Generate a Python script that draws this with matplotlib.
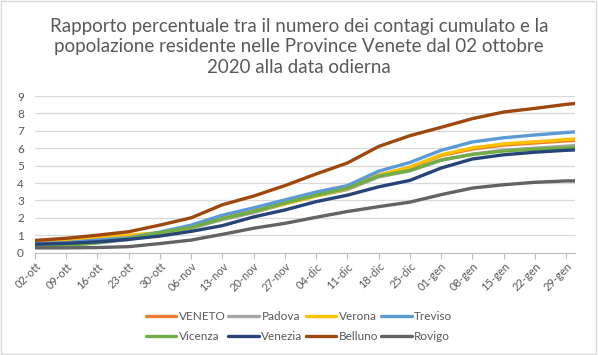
import numpy as np
import pandas as pd
import matplotlib
matplotlib.use('Agg')
import matplotlib.pyplot as plt
from matplotlib.patches import Rectangle

plt.rcParams['font.family'] = ['Lato', 'DejaVu Sans']

# valori (settimanali dal 02-ott, ultimo punto 31-gen)
dates = list(pd.date_range('2020-10-02', periods=18, freq='7D')) + [pd.Timestamp('2021-01-31')]
tick_labels = ['02-ott', '09-ott', '16-ott', '23-ott', '30-ott', '06-nov', '13-nov',
               '20-nov', '27-nov', '04-dic', '11-dic', '18-dic', '25-dic', '01-gen',
               '08-gen', '15-gen', '22-gen', '29-gen']

veneto  = [0.55, 0.62, 0.75, 0.88, 1.15, 1.48, 2.00, 2.40, 2.85, 3.30, 3.72, 4.45, 4.88, 5.58, 5.95, 6.18, 6.30, 6.42, 6.45]
padova  = [0.38, 0.42, 0.55, 0.75, 1.10, 1.40, 1.90, 2.30, 2.80, 3.25, 3.62, 4.35, 4.70, 5.30, 5.66, 5.88, 6.00, 6.12, 6.15]
verona  = [0.62, 0.72, 0.90, 1.00, 1.15, 1.45, 2.00, 2.38, 2.80, 3.25, 3.68, 4.45, 4.92, 5.62, 6.02, 6.25, 6.37, 6.50, 6.53]
treviso = [0.52, 0.57, 0.72, 0.85, 1.18, 1.58, 2.15, 2.57, 3.03, 3.48, 3.85, 4.68, 5.18, 5.88, 6.36, 6.60, 6.76, 6.90, 6.94]
vicenza = [0.33, 0.38, 0.57, 0.80, 1.15, 1.45, 1.95, 2.36, 2.85, 3.30, 3.70, 4.40, 4.72, 5.33, 5.64, 5.84, 5.94, 6.02, 6.05]
venezia = [0.48, 0.53, 0.62, 0.76, 0.95, 1.22, 1.55, 2.05, 2.45, 2.93, 3.30, 3.78, 4.15, 4.86, 5.38, 5.62, 5.77, 5.88, 5.90]
belluno = [0.70, 0.82, 1.00, 1.20, 1.58, 2.00, 2.75, 3.25, 3.85, 4.52, 5.15, 6.10, 6.72, 7.20, 7.70, 8.08, 8.29, 8.52, 8.57]
rovigo  = [0.27, 0.27, 0.29, 0.34, 0.52, 0.72, 1.05, 1.40, 1.68, 2.03, 2.36, 2.64, 2.90, 3.33, 3.71, 3.90, 4.04, 4.12, 4.12]

names = ['VENETO', 'Padova', 'Verona', 'Treviso', 'Vicenza', 'Venezia', 'Belluno', 'Rovigo']
series = [veneto, padova, verona, treviso, vicenza, venezia, belluno, rovigo]
colors = ['#ED7D31', '#A5A5A5', '#FFC000', '#5B9BD5', '#70AD47', '#264478', '#9E480E', '#636363']

fig = plt.figure(figsize=(5.98, 3.55), dpi=100)
ax1 = fig.add_axes([0.0585, 0.2885, 0.903, 0.441])

lines = []
for i in range(len(series)):
    l, = ax1.plot(dates, series[i], color=colors[i], linewidth=2.4, label=names[i],
                  solid_capstyle='round', solid_joinstyle='round')
    lines.append(l)

ax1.set_ylim(0, 9)
ax1.set_yticks(range(10))
ax1.set_xlim(dates[0], dates[-1])
ax1.set_xticks(dates[:18])
ax1.set_xticklabels(tick_labels, rotation=45, ha='right', rotation_mode='anchor')
ax1.tick_params(axis='x', colors='#595959', labelsize=8, length=4, color='#BFBFBF', pad=2)
ax1.tick_params(axis='y', colors='#595959', labelsize=8.5, length=0, pad=8)
ax1.grid(axis='y', color='#D9D9D9', linewidth=0.9)
ax1.set_axisbelow(True)
for s in ['top', 'right', 'left']:
    ax1.spines[s].set_visible(False)
ax1.spines['bottom'].set_color('#BFBFBF')

fig.text(0.5, 0.868, 'Rapporto percentuale tra il numero dei contagi cumulato e la\n'
         'popolazione residente nelle Province Venete dal 02 ottobre\n2020 alla data odierna',
         ha='center', va='center', fontsize=13.5, color='#595959', linespacing=1.25)

# legenda riga per riga (matplotlib riempie per colonne)
order = [0, 4, 1, 5, 2, 6, 3, 7]
leg = fig.legend([lines[k] for k in order], [names[k] for k in order],
                 loc='center', bbox_to_anchor=(0.5, 0.08), ncol=4, frameon=False,
                 fontsize=8.5, handlelength=2.6, handletextpad=0.2, columnspacing=0.25,
                 labelspacing=0.75)
for t in leg.get_texts():
    t.set_color('#595959')

fig.patches.append(Rectangle((0.002, 0.003), 0.995, 0.994, transform=fig.transFigure,
                             fill=False, edgecolor='#D9D9D9', linewidth=1))

plt.savefig('out.png', dpi=100)
plt.close(fig)
